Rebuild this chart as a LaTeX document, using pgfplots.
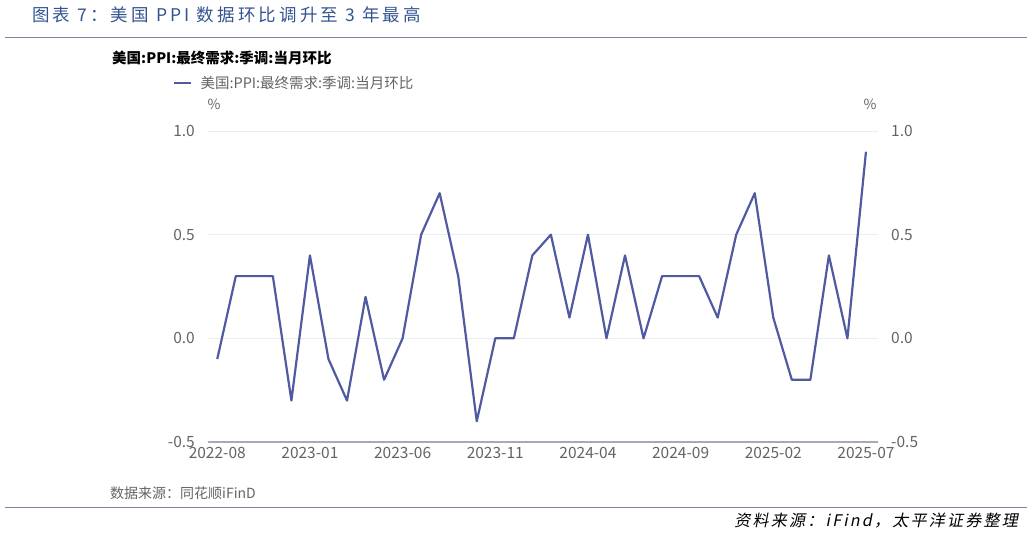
\documentclass[border=0pt]{standalone}
\usepackage{fontspec}
\setmainfont{Noto Sans CJK SC}
\newfontfamily\titlefont[LetterSpace=18]{Noto Sans CJK SC}
\newfontfamily\slantfont[FakeSlant=0.2,LetterSpace=14]{Noto Sans CJK SC}
\usepackage{pgfplots}
\usepackage{pgfplotstable}
\pgfplotsset{compat=1.18}

\definecolor{lineblue}{RGB}{80,90,160}
\definecolor{titleblue}{RGB}{52,84,145}
\definecolor{rulecol}{RGB}{125,130,165}
\definecolor{gridcol}{RGB}{236,237,242}
\definecolor{axiscol}{RGB}{165,170,185}
\definecolor{labelgray}{RGB}{100,100,100}

% month index (0 = 2022-08), PPI final demand m/m, %
\pgfplotstableread{
m v
0 -0.1
1 0.3
2 0.3
3 0.3
4 -0.3
5 0.4
6 -0.1
7 -0.3
8 0.2
9 -0.2
10 0.0
11 0.5
12 0.7
13 0.3
14 -0.4
15 0.0
16 0.0
17 0.4
18 0.5
19 0.1
20 0.5
21 0.0
22 0.4
23 0.0
24 0.3
25 0.3
26 0.3
27 0.1
28 0.5
29 0.7
30 0.1
31 -0.2
32 -0.2
33 0.4
34 0.0
35 0.9
}\ppi

\begin{document}
\begin{tikzpicture}
\path[use as bounding box] (0,0) rectangle (1032bp,-534bp);

\node[anchor=west, inner sep=0, text=titleblue,
      font=\titlefont\fontsize{17.5bp}{20bp}\selectfont] at (32bp,-15bp)
      {图表 7：美国 PPI 数据环比调升至 3 年最高};
\draw[rulecol, line width=1bp] (5bp,-37bp) -- (1027bp,-37bp);

\node[anchor=west, inner sep=0, font=\bfseries\fontsize{14.5bp}{16bp}\selectfont]
      at (112bp,-58bp) {美国:PPI:最终需求:季调:当月环比};

\node[inner sep=0, text=labelgray, font=\fontsize{14bp}{16bp}\selectfont] at (214bp,-104bp) {\%};
\node[inner sep=0, text=labelgray, font=\fontsize{14bp}{16bp}\selectfont] at (870bp,-104bp) {\%};

\pgfplotsset{
  every axis/.append style={
    at={(208bp,-442bp)}, anchor=south west,
    scale only axis, width=670bp, height=311bp,
    xmin=-0.5, xmax=35.65, ymin=-0.5, ymax=1.0,
    ytick={-0.5,0,0.5,1},
    major tick length=0pt,
    /pgf/number format/assume math mode=true,
    /pgf/number format/fixed,
    /pgf/number format/fixed zerofill,
    /pgf/number format/precision=1,
    tick label style={text=labelgray, font=\fontsize{15.5bp}{17bp}\selectfont, inner sep=0pt},
  }
}

\begin{axis}[
  axis x line*=bottom,
  axis y line*=left,
  x axis line style={draw=axiscol, line width=1.2bp, -},
  y axis line style={draw=none},
  xtick={0,5,10,15,20,25,30,35},
  xticklabels={2022-08,2023-01,2023-06,2023-11,2024-04,2024-09,2025-02,2025-07},
  xticklabel style={anchor=north, yshift=-5bp},
  yticklabel style={anchor=east, xshift=-13bp},
  ymajorgrids,
  grid style={draw=gridcol, line width=0.8bp},
  legend style={at={(-0.052,1.154)}, anchor=west, draw=none, fill=none,
    inner sep=0pt, font=\fontsize{14.5bp}{16bp}\selectfont, text=labelgray},
  legend image code/.code={\draw[#1] (0bp,0bp) -- (17bp,0bp);},
]
\addplot[lineblue, line width=2.2bp, line join=round] table[x=m, y=v] {\ppi};
\addlegendentry{\hspace{6bp}美国:PPI:最终需求:季调:当月环比}
\end{axis}

\begin{axis}[
  hide x axis,
  axis y line*=right,
  y axis line style={draw=none},
  yticklabel style={anchor=west, xshift=13bp},
]
\addplot[draw=none] table[x=m, y=v] {\ppi};
\end{axis}

\node[anchor=west, inner sep=0, text=labelgray, font=\fontsize{14bp}{16bp}\selectfont]
      at (110bp,-493bp) {数据来源：同花顺iFinD};
\draw[rulecol, line width=1bp] (5bp,-507bp) -- (1027bp,-507bp);
\node[anchor=east, inner sep=0, font=\slantfont\fontsize{16bp}{18bp}\selectfont]
      at (1018bp,-521bp) {资料来源：iFind，太平洋证券整理};
\end{tikzpicture}
\end{document}
